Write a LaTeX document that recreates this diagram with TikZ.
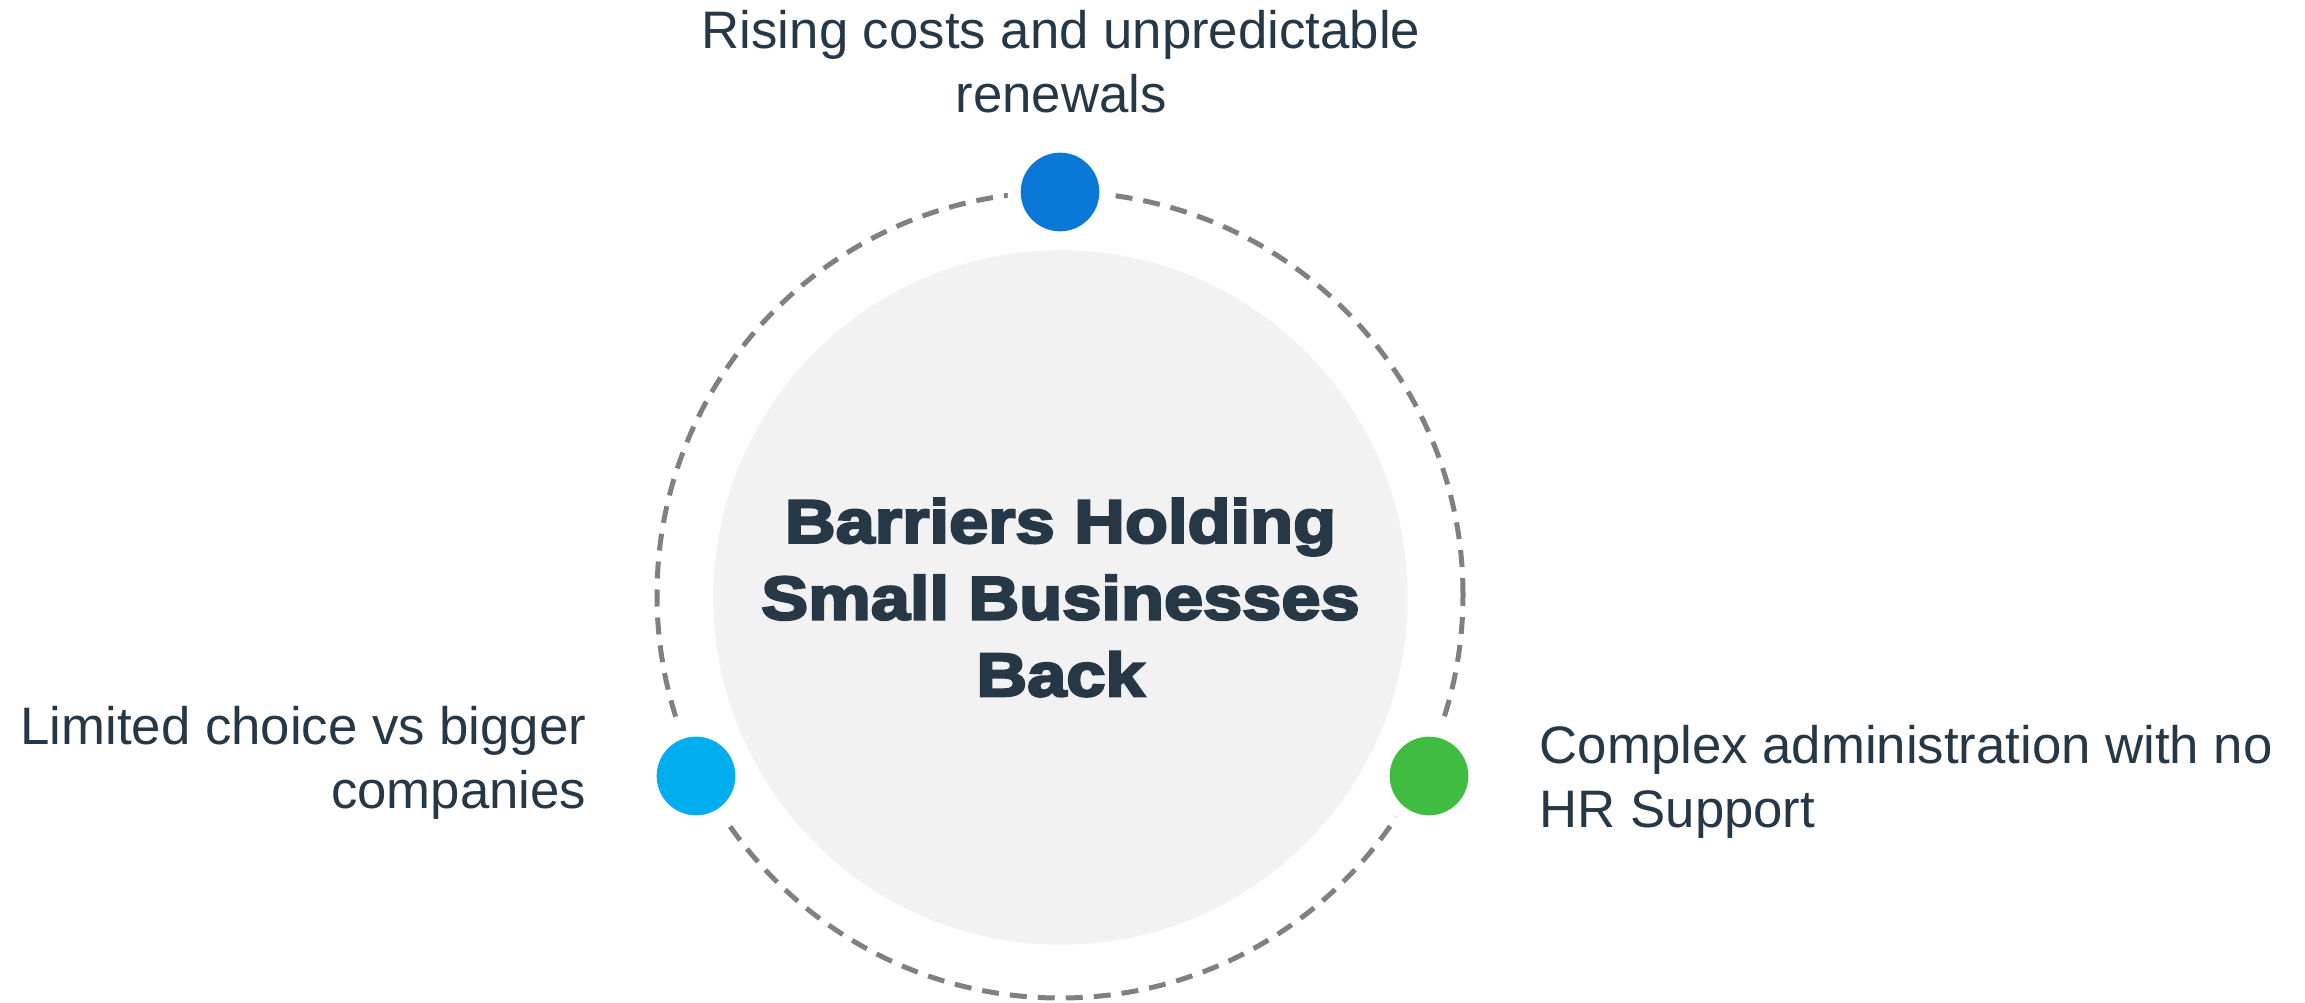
\documentclass[tikz,border=0pt]{standalone}
\usepackage{fontspec}
\setmainfont{Liberation Sans}
\newfontfamily\heavyfont{Liberation Sans Bold}[FakeBold=4,FakeStretch=1.15]
\definecolor{navy}{RGB}{38,55,70}
\definecolor{hubgray}{RGB}{242,242,242}
\definecolor{ringgray}{RGB}{128,128,128}
\definecolor{costblue}{RGB}{10,120,214}
\definecolor{choicecyan}{RGB}{0,174,239}
\definecolor{admingreen}{RGB}{63,189,64}
\begin{document}
\begin{tikzpicture}[x=0.01cm,y=0.01cm,
    spot/.style={circle,minimum size=0.786cm,inner sep=0pt,
      preaction={draw=white,line width=0.26cm}},
    barrier/.style={inner sep=0pt,text=navy,
      font=\fontsize{15}{18.2}\selectfont}]
  \useasboundingbox (0,0) rectangle (2305,1002);
  \coordinate (c) at (1060,407);
  % dashed ring and grey hub
  \draw[ringgray,line width=0.05cm,dash pattern=on 0.17cm off 0.11cm] (c) circle (403);
  \node (hub) [circle,fill=hubgray,minimum size=6.94cm,inner sep=0pt,
    align=center,text=navy,font=\heavyfont\fontsize{17.4}{21.8}\selectfont]
    at (1060.5,404.5) {Barriers Holding\\Small Businesses\\Back};
  % the three barriers
  \node (costdot) [spot,fill=costblue] at (1060,810) {};
  \node (choicedot) [spot,fill=choicecyan] at (696,226) {};
  \node (admindot) [spot,fill=admingreen] at (1429,226) {};
  \node (cost) [barrier,align=center,anchor=base] at (1061,889)
    {Rising costs and unpredictable\\renewals};
  \node (choice) [barrier,align=right,anchor=base east] at (587,194)
    {Limited choice vs bigger\\companies};
  \node (admin) [barrier,align=left,anchor=base west] at (1539,175)
    {Complex administration with no\\HR Support};
\end{tikzpicture}
\end{document}
